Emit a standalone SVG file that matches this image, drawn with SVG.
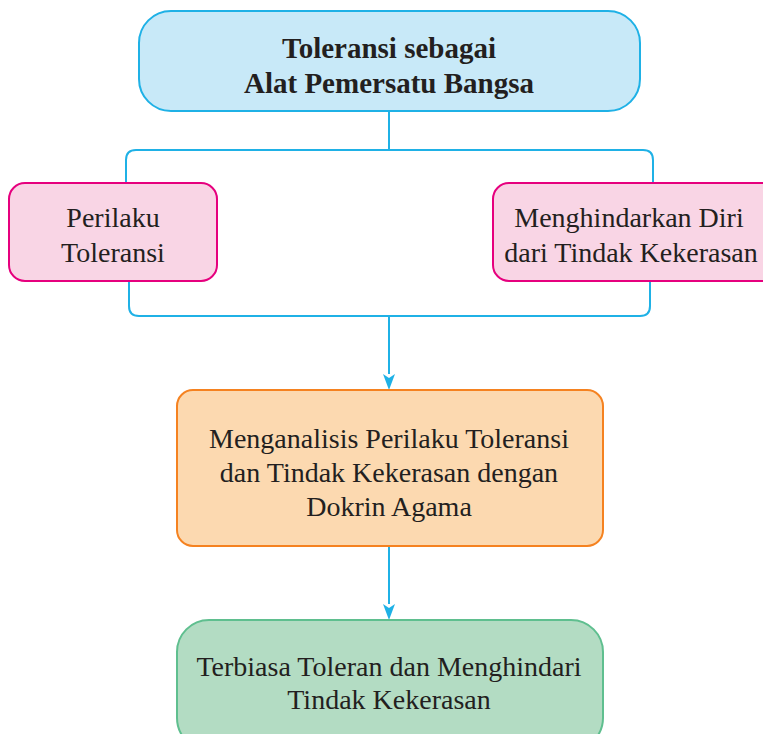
<svg xmlns="http://www.w3.org/2000/svg" width="763" height="734" viewBox="0 0 763 734">
<style>
.t{font-family:"Liberation Serif","Times New Roman",serif;font-size:28px;fill:#231f20;text-anchor:middle}
.b{font-weight:bold;font-size:29px}
.c{fill:none;stroke:#1fb1e6;stroke-width:2}
.h{fill:#1fb1e6}
</style>
<rect width="763" height="734" fill="#fff"/>
<g id="connectors">
<path class="c" d="M389,111 V150"/>
<path class="c" d="M126,183 V160 Q126,150 136,150 H643 Q653,150 653,160 V183"/>
<path class="c" d="M129,281 V306 Q129,316 139,316 H640 Q650,316 650,306 V281"/>
<path class="c" d="M389,316 V374"/>
<path class="h" d="M383,374 L389,378 L395,374 L389,390 Z"/>
<path class="c" d="M389,546 V604"/>
<path class="h" d="M383,604 L389,608 L395,604 L389,620 Z"/>
</g>
<g id="top">
<rect x="139" y="11" width="501" height="100" rx="32" fill="#c8e9f8" stroke="#1fb1e6" stroke-width="2"/>
<text class="t b" x="389" y="58">Toleransi sebagai</text>
<text class="t b" x="389" y="93">Alat Pemersatu Bangsa</text>
</g>
<g id="perilaku">
<rect x="9" y="183" width="208" height="98" rx="16" fill="#f9d5e5" stroke="#e6007e" stroke-width="2"/>
<text class="t" x="113" y="227">Perilaku</text>
<text class="t" x="113" y="262">Toleransi</text>
</g>
<g id="menghindarkan">
<rect x="493" y="183" width="290" height="98" rx="16" fill="#f9d5e5" stroke="#e6007e" stroke-width="2"/>
<text class="t" x="629" y="227">Menghindarkan Diri</text>
<text class="t" x="631" y="262">dari Tindak Kekerasan</text>
</g>
<g id="menganalisis">
<rect x="177" y="390" width="426" height="156" rx="16" fill="#fcd9b0" stroke="#f58220" stroke-width="2"/>
<text class="t" x="389" y="448">Menganalisis Perilaku Toleransi</text>
<text class="t" x="389" y="482">dan Tindak Kekerasan dengan</text>
<text class="t" x="389" y="516">Dokrin Agama</text>
</g>
<g id="terbiasa">
<rect x="177" y="620" width="426" height="130" rx="32" fill="#b3dcc3" stroke="#5fbf8f" stroke-width="2"/>
<text class="t" x="389" y="676">Terbiasa Toleran dan Menghindari</text>
<text class="t" x="389" y="709">Tindak Kekerasan</text>
</g>
</svg>
